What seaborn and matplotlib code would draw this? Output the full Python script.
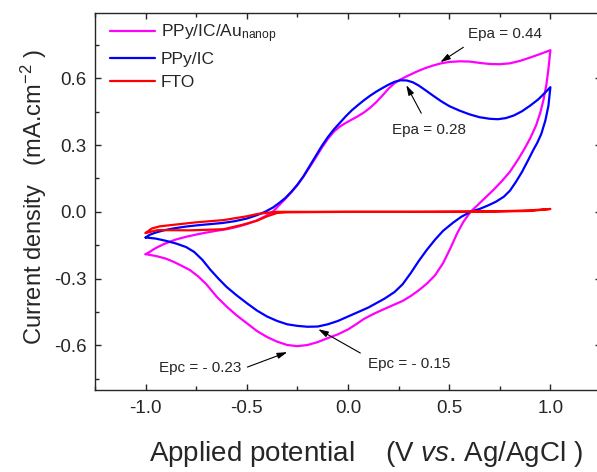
import numpy as np
import pandas as pd
import matplotlib
matplotlib.use("Agg")
import matplotlib.pyplot as plt
from matplotlib.ticker import MultipleLocator, FormatStrFormatter
import seaborn as sns

# Cyclic voltammograms (forward sweep -1 -> 1 V, then reverse 1 -> -1 V)
au_E = [-1.00, -0.98, -0.96, -0.94, -0.91, -0.88, -0.85, -0.80, -0.75, -0.70,
        -0.65, -0.60, -0.55, -0.50, -0.45, -0.41, -0.37, -0.34, -0.31, -0.28,
        -0.25, -0.22, -0.19, -0.16, -0.13, -0.10, -0.07, -0.04, -0.01, 0.02,
        0.05, 0.08, 0.11, 0.14, 0.17, 0.20, 0.23, 0.26, 0.30, 0.34,
        0.38, 0.42, 0.46, 0.50, 0.55, 0.60, 0.65, 0.70, 0.75, 0.80,
        0.85, 0.90, 0.95, 1.00,
        0.99, 0.98, 0.965, 0.95, 0.93, 0.90, 0.87, 0.84, 0.80, 0.76,
        0.72, 0.68, 0.64, 0.605, 0.57, 0.54, 0.505, 0.47, 0.43, 0.39,
        0.35, 0.31, 0.27, 0.22, 0.17, 0.127, 0.08, 0.04, 0.0, -0.05,
        -0.10, -0.15, -0.20, -0.25, -0.30, -0.35, -0.40, -0.45, -0.50, -0.55,
        -0.60, -0.65, -0.70, -0.74, -0.78, -0.82, -0.86, -0.90, -0.95, -1.00]
au_j = [-0.19, -0.18, -0.168, -0.158, -0.145, -0.134, -0.124, -0.112, -0.102, -0.093,
        -0.085, -0.078, -0.068, -0.055, -0.038, -0.02, 0.002, 0.03, 0.058, 0.088,
        0.12, 0.158, 0.2, 0.243, 0.287, 0.327, 0.36, 0.383, 0.40, 0.415,
        0.43, 0.447, 0.468, 0.493, 0.522, 0.553, 0.578, 0.595, 0.613, 0.63,
        0.645, 0.657, 0.667, 0.673, 0.676, 0.675, 0.669, 0.664, 0.663, 0.667,
        0.678, 0.693, 0.709, 0.726,
        0.64, 0.57, 0.50, 0.445, 0.39, 0.33, 0.28, 0.235, 0.18, 0.138,
        0.10, 0.065, 0.03, 0.0, -0.045, -0.095, -0.165, -0.23, -0.285, -0.322,
        -0.352, -0.378, -0.40, -0.42, -0.44, -0.458, -0.48, -0.505, -0.528, -0.55,
        -0.567, -0.585, -0.598, -0.603, -0.598, -0.583, -0.562, -0.535, -0.50, -0.465,
        -0.425, -0.38, -0.325, -0.29, -0.262, -0.243, -0.225, -0.21, -0.198, -0.19]

ic_E = [-1.00, -0.98, -0.95, -0.91, -0.86, -0.80, -0.74, -0.68, -0.62, -0.56,
        -0.50, -0.45, -0.41, -0.37, -0.34, -0.31, -0.28, -0.25, -0.22, -0.19,
        -0.16, -0.13, -0.10, -0.07, -0.04, -0.01, 0.02, 0.05, 0.08, 0.11,
        0.14, 0.17, 0.20, 0.23, 0.26, 0.29, 0.32, 0.35, 0.38, 0.42,
        0.46, 0.50, 0.55, 0.60, 0.65, 0.70, 0.74, 0.78, 0.82, 0.86,
        0.90, 0.94, 0.97, 1.00,
        0.99, 0.975, 0.955, 0.935, 0.915, 0.89, 0.86, 0.83, 0.80, 0.77,
        0.73, 0.69, 0.65, 0.605, 0.56, 0.52, 0.47, 0.43, 0.39, 0.35,
        0.31, 0.27, 0.23, 0.18, 0.14, 0.10, 0.05, 0.0, -0.05, -0.10,
        -0.15, -0.20, -0.25, -0.30, -0.35, -0.40, -0.45, -0.50, -0.55, -0.60,
        -0.64, -0.68, -0.72, -0.76, -0.80, -0.85, -0.90, -0.95, -1.00]
ic_j = [-0.115, -0.103, -0.093, -0.083, -0.074, -0.066, -0.06, -0.055, -0.05, -0.042,
        -0.03, -0.015, 0.0, 0.02, 0.04, 0.062, 0.09, 0.122, 0.16, 0.205,
        0.25, 0.295, 0.335, 0.37, 0.40, 0.43, 0.457, 0.48, 0.502, 0.522,
        0.54, 0.556, 0.571, 0.584, 0.591, 0.59, 0.582, 0.567, 0.548, 0.522,
        0.497, 0.475, 0.455, 0.438, 0.425, 0.418, 0.416, 0.421, 0.433, 0.452,
        0.477, 0.505, 0.532, 0.56,
        0.475, 0.41, 0.35, 0.31, 0.277, 0.232, 0.18, 0.135, 0.095, 0.068,
        0.045, 0.028, 0.013, 0.0, -0.022, -0.048, -0.085, -0.125, -0.17, -0.22,
        -0.275, -0.325, -0.36, -0.39, -0.41, -0.43, -0.45, -0.47, -0.49, -0.505,
        -0.515, -0.516, -0.512, -0.505, -0.49, -0.47, -0.443, -0.41, -0.375, -0.337,
        -0.30, -0.26, -0.215, -0.18, -0.158, -0.142, -0.13, -0.12, -0.115]

fto_E = [-1.00, -0.97, -0.93, -0.86, -0.75, -0.615, -0.50, -0.45, -0.40, -0.35,
         -0.20, 0.0, 0.30, 0.60, 0.80, 0.90, 0.97, 1.00,
         0.90, 0.70, 0.40, 0.0, -0.30, -0.35, -0.40, -0.45, -0.53, -0.615,
         -0.78, -0.94, -1.00]
fto_j = [-0.095, -0.075, -0.065, -0.058, -0.047, -0.037, -0.02, -0.01, -0.004, 0.0,
         0.0, 0.0, 0.0, 0.001, 0.004, 0.007, 0.011, 0.013,
         0.004, 0.001, 0.0, 0.0, -0.002, -0.005, -0.02, -0.04, -0.06, -0.078,
         -0.083, -0.082, -0.095]

labels = ["PPy/IC/Au$_\\mathregular{nanop}$", "PPy/IC", "FTO"]
colors = ["#FF00FF", "#0000FF", "#FF0000"]

# peak annotations: text, head (data), tail (data), text centre (data)
peaks = [
    ("Epa = 0.44", (0.456, 0.672), (0.570, 0.739), (0.777, 0.797)),
    ("Epa = 0.28", (0.288, 0.569), (0.362, 0.443), (0.401, 0.367)),
    ("Epc = - 0.23", (-0.300, -0.630), (-0.497, -0.697), (-0.728, -0.702)),
    ("Epc = - 0.15", (-0.147, -0.527), (0.061, -0.634), (0.303, -0.684)),
]


def main():
    frames = []
    for lab, E, j in zip(labels, [au_E, ic_E, fto_E], [au_j, ic_j, fto_j]):
        frames.append(pd.DataFrame({"E": E, "j": j, "sample": lab}))
    df = pd.concat(frames, ignore_index=True)

    sns.set_style("ticks")
    plt.rcParams["font.family"] = ["Liberation Sans", "DejaVu Sans"]
    plt.rcParams["mathtext.fontset"] = "custom"
    plt.rcParams["mathtext.rm"] = "Liberation Sans"
    plt.rcParams["mathtext.it"] = "Liberation Sans:italic"
    plt.rcParams["axes.unicode_minus"] = False

    fig = plt.figure(figsize=(5.97, 4.72), dpi=100)
    ax = fig.add_axes([95 / 597, 1 - 390 / 472, 506 / 597, 377 / 472])

    sns.lineplot(data=df, x="E", y="j", hue="sample", hue_order=labels,
                 palette=colors, sort=False, estimator=None, linewidth=1.6, ax=ax)

    ax.set_xlim(-1.25, 1.25)
    ax.set_ylim(-0.8, 0.893)
    ax.xaxis.set_major_locator(MultipleLocator(0.5))
    ax.xaxis.set_minor_locator(MultipleLocator(0.25))
    ax.yaxis.set_major_locator(MultipleLocator(0.3))
    ax.yaxis.set_minor_locator(MultipleLocator(0.15))
    ax.xaxis.set_major_formatter(FormatStrFormatter("%.1f"))
    ax.yaxis.set_major_formatter(FormatStrFormatter("%.1f"))
    ax.tick_params(which="both", direction="in", top=True, right=True, width=1.0)
    ax.tick_params(which="major", length=4, labelsize=13.5)
    ax.tick_params(which="minor", length=3)
    ax.tick_params(axis="x", pad=7)
    ax.tick_params(axis="y", pad=6)
    for sp in ax.spines.values():
        sp.set_linewidth(1.0)

    ax.set_xlabel("Applied potential    (V $\\mathit{vs}$. Ag/AgCl )", fontsize=20)
    ax.set_ylabel("Current density   (mA.cm$^{-2}$ )", fontsize=17)
    ax.xaxis.set_label_coords(0.536, -0.13)
    ax.yaxis.set_label_coords(-0.09, 0.512)

    sns.move_legend(ax, "upper left", bbox_to_anchor=(0.03, 0.975), frameon=False,
                    title=None, fontsize=12.5, handlelength=2.6, handletextpad=0.3,
                    borderpad=0, borderaxespad=0, labelspacing=0.42)

    for txt, head, tail, pos in peaks:
        ax.annotate("", xy=head, xytext=tail,
                    arrowprops=dict(arrowstyle="-|>,head_length=0.6,head_width=0.18",
                                    color="black", lw=0.8, shrinkA=0, shrinkB=0))
        ax.text(pos[0], pos[1], txt, fontsize=11, ha="center", va="center")

    fig.savefig("out.png", dpi=100)


if __name__ == "__main__":
    main()
